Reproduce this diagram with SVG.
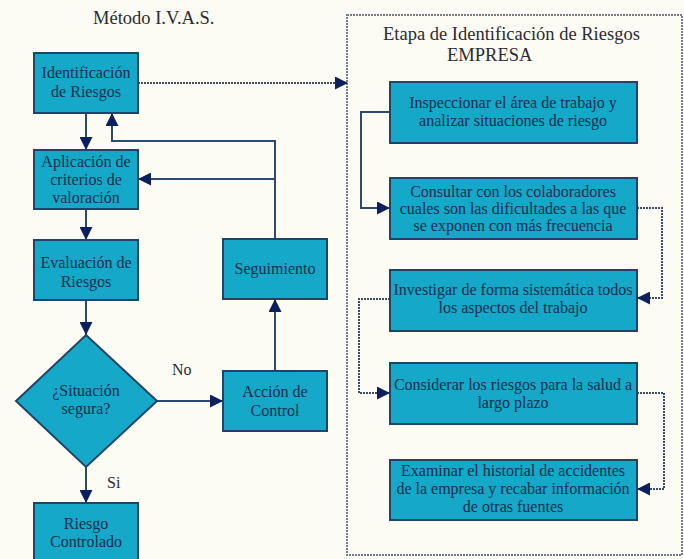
<svg xmlns="http://www.w3.org/2000/svg" width="684" height="559" viewBox="0 0 684 559">
<style>
.box{fill:#15a8c9;stroke:#1f4466;stroke-width:2}
.t{font-family:"Liberation Serif","Times New Roman",serif;font-size:16px;fill:#0e2f4d;text-anchor:middle}
.title{font-family:"Liberation Serif","Times New Roman",serif;font-size:18.5px;fill:#2a2a35}
.lbl{font-family:"Liberation Serif","Times New Roman",serif;font-size:16px;fill:#2a2a35}
.ln{fill:none;stroke:#2c4a70;stroke-width:2}
.dot{fill:none;stroke:#3e4a68;stroke-width:2;stroke-dasharray:2 1}
</style>
<defs>
<marker id="ah" viewBox="0 0 10 10" refX="10" refY="5" markerWidth="14" markerHeight="13" orient="auto" markerUnits="userSpaceOnUse">
<path d="M0,0 L10,5 L0,10 z" fill="#0d1f5c"/>
</marker>
</defs>
<rect x="0" y="0" width="684" height="559" fill="#fdfcf4"/>
<text class="title" x="93" y="24">Método I.V.A.S.</text>
<g id="container">
<rect x="347" y="15" width="335" height="540" fill="none" stroke="#737c93" stroke-width="2" stroke-dasharray="2 1"/>
<text class="title" x="383" y="40">Etapa de Identificación de Riesgos</text>
<text class="title" x="447" y="61">EMPRESA</text>
</g>
<g id="connectors">
<path class="ln" d="M86,113 V150" marker-end="url(#ah)"/>
<path class="ln" d="M86,209 V240" marker-end="url(#ah)"/>
<path class="ln" d="M86,300 V335" marker-end="url(#ah)"/>
<path class="ln" d="M86,467 V503" marker-end="url(#ah)"/>
<path class="ln" d="M157,401 H223" marker-end="url(#ah)"/>
<path class="ln" d="M275,371 V299" marker-end="url(#ah)"/>
<path class="ln" d="M275,239 V141 H112 V113" marker-end="url(#ah)"/>
<path class="ln" d="M275,179 H138" marker-end="url(#ah)"/>
<path class="dot" d="M138,83 H348" marker-end="url(#ah)"/>
<path class="ln" d="M390,112 H361 V208 H390" marker-end="url(#ah)"/>
<path class="dot" d="M637,208 H662 V298 H637" marker-end="url(#ah)"/>
<path class="dot" d="M390,299 H359 V393 H390" marker-end="url(#ah)"/>
<path class="dot" d="M637,393 H664 V489 H637" marker-end="url(#ah)"/>
<text class="lbl" x="172" y="375">No</text>
<text class="lbl" x="107" y="488">Si</text>
</g>
<g id="identificacion">
<rect class="box" x="34" y="53" width="104" height="60"/>
<text class="t" x="86" y="78">Identificación</text>
<text class="t" x="86" y="97">de Riesgos</text>
</g>
<g id="aplicacion">
<rect class="box" x="34" y="150" width="104" height="59"/>
<text class="t" x="86" y="167">Aplicación de</text>
<text class="t" x="86" y="185">criterios de</text>
<text class="t" x="86" y="203">valoración</text>
</g>
<g id="evaluacion">
<rect class="box" x="34" y="240" width="104" height="60"/>
<text class="t" x="86" y="268">Evaluación de</text>
<text class="t" x="86" y="287">Riesgos</text>
</g>
<g id="decision">
<polygon class="box" points="86,335 157,401 86,467 16,401"/>
<text class="t" x="86" y="396">¿Situación</text>
<text class="t" x="86" y="414">segura?</text>
</g>
<g id="riesgo-controlado">
<rect class="box" x="34" y="503" width="104" height="58"/>
<text class="t" x="86" y="529">Riesgo</text>
<text class="t" x="86" y="547">Controlado</text>
</g>
<g id="seguimiento">
<rect class="box" x="223" y="239" width="104" height="60"/>
<text class="t" x="275" y="274">Seguimiento</text>
</g>
<g id="accion">
<rect class="box" x="223" y="371" width="104" height="60"/>
<text class="t" x="275" y="397">Acción de</text>
<text class="t" x="275" y="416">Control</text>
</g>
<g id="paso1">
<rect class="box" x="390" y="82" width="247" height="61"/>
<text class="t" x="513" y="108">Inspeccionar el área de trabajo y</text>
<text class="t" x="513" y="126">analizar situaciones de riesgo</text>
</g>
<g id="paso2">
<rect class="box" x="390" y="178" width="247" height="61"/>
<text class="t" x="513" y="197">Consultar con los colaboradores</text>
<text class="t" x="513" y="214">cuales son las dificultades a las que</text>
<text class="t" x="513" y="231">se exponen con más frecuencia</text>
</g>
<g id="paso3">
<rect class="box" x="390" y="270" width="247" height="61"/>
<text class="t" x="513" y="295">Investigar de forma sistemática todos</text>
<text class="t" x="513" y="313">los aspectos del trabajo</text>
</g>
<g id="paso4">
<rect class="box" x="390" y="363" width="247" height="61"/>
<text class="t" x="513" y="390">Considerar los riesgos para la salud a</text>
<text class="t" x="513" y="408">largo plazo</text>
</g>
<g id="paso5">
<rect class="box" x="390" y="460" width="247" height="60"/>
<text class="t" x="513" y="476">Examinar el historial de accidentes</text>
<text class="t" x="513" y="494">de la empresa y recabar información</text>
<text class="t" x="513" y="512">de otras fuentes</text>
</g>
</svg>
